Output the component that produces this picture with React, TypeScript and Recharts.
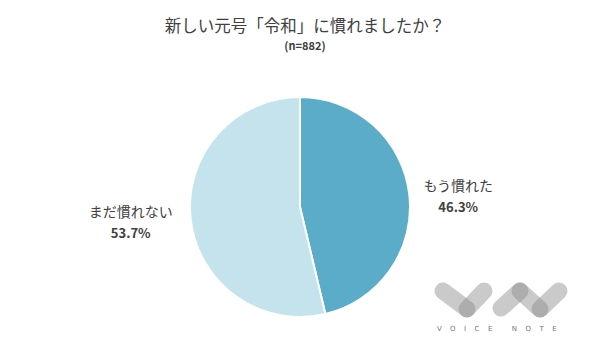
import { PieChart, Pie, Cell } from "recharts";

const answers = ["もう慣れた", "まだ慣れない"];
const shares = [46.3, 53.7];
const sliceColors = ["#5AACC8", "#C5E3EC"];
const sampleSize = 882;

const data = answers.map((name, i) => ({ name, value: shares[i] }));

const RAD = Math.PI / 180;
const TEXT = "#404040";
const FONT = "'Noto Sans CJK JP', 'Noto Sans', sans-serif";

function SliceLabel(props: any) {
  const { cx, cy, midAngle, outerRadius, name, value } = props;
  const cos = Math.cos(-midAngle * RAD);
  const sin = Math.sin(-midAngle * RAD);
  // point on the rim, then push the label block out sideways
  const rx = cx + outerRadius * cos;
  const ry = cy + outerRadius * sin;
  const w = name.length * 14;
  const x = cos >= 0 ? rx + w / 2 + 14 : rx - w / 2 - 18;
  const y = ry + 3;
  return (
    <g fontFamily={FONT}>
      <text x={x} y={y - 6} textAnchor="middle" fontSize={14} fill={TEXT}>
        {name}
      </text>
      <text x={x} y={y + 15} textAnchor="middle" fontSize={13} fontWeight="bold" fill={TEXT}>
        {value.toFixed(1)}%
      </text>
    </g>
  );
}

function Logo() {
  const c = "#8a8a8a";
  const sw = 17;
  const seg = (x1: number, y1: number, x2: number, y2: number) => (
    <line x1={x1} y1={y1} x2={x2} y2={y2} stroke={c} strokeOpacity={0.45}
      strokeWidth={sw} strokeLinecap="round" />
  );
  return (
    <svg width={600} height={359} style={{ position: "absolute", left: 0, top: 0 }}>
      {seg(443, 291, 467, 309)}
      {seg(484, 291, 467, 309)}
      {seg(501, 308, 520, 291)}
      {seg(520, 291, 540, 309)}
      {seg(540, 309, 559, 291)}
      <text x={501} y={331} textAnchor="middle" fontSize={7} letterSpacing={8.5}
        fill="#777" fontFamily="'DejaVu Sans', sans-serif">VOICE NOTE</text>
    </svg>
  );
}

export default function App() {
  return (
    <div style={{ position: "absolute", left: 0, top: 0, width: 600, height: 359, background: "#fff", fontFamily: FONT }}>
      <div style={{ position: "absolute", top: 13, left: 5, width: 600, textAlign: "center", fontSize: 16.5, color: TEXT, lineHeight: "24px" }}>
        新しい元号「令和」に慣れましたか？
      </div>
      <div style={{ position: "absolute", top: 37, left: 5, width: 600, textAlign: "center", fontSize: 11, fontWeight: "bold", color: TEXT, lineHeight: "16px" }}>
        (n={sampleSize})
      </div>
      <PieChart width={600} height={359} margin={{ top: 0, right: 0, bottom: 0, left: 0 }}
        style={{ position: "absolute", left: 0, top: 0 }}>
        <Pie
          data={data}
          dataKey="value"
          nameKey="name"
          cx={300}
          cy={207}
          outerRadius={110}
          startAngle={90}
          endAngle={-270}
          stroke="#fff"
          strokeWidth={2}
          labelLine={false}
          label={SliceLabel}
          isAnimationActive={false}
        >
          {data.map((d, i) => (
            <Cell key={d.name} fill={sliceColors[i]} />
          ))}
        </Pie>
      </PieChart>
      <Logo />
    </div>
  );
}
